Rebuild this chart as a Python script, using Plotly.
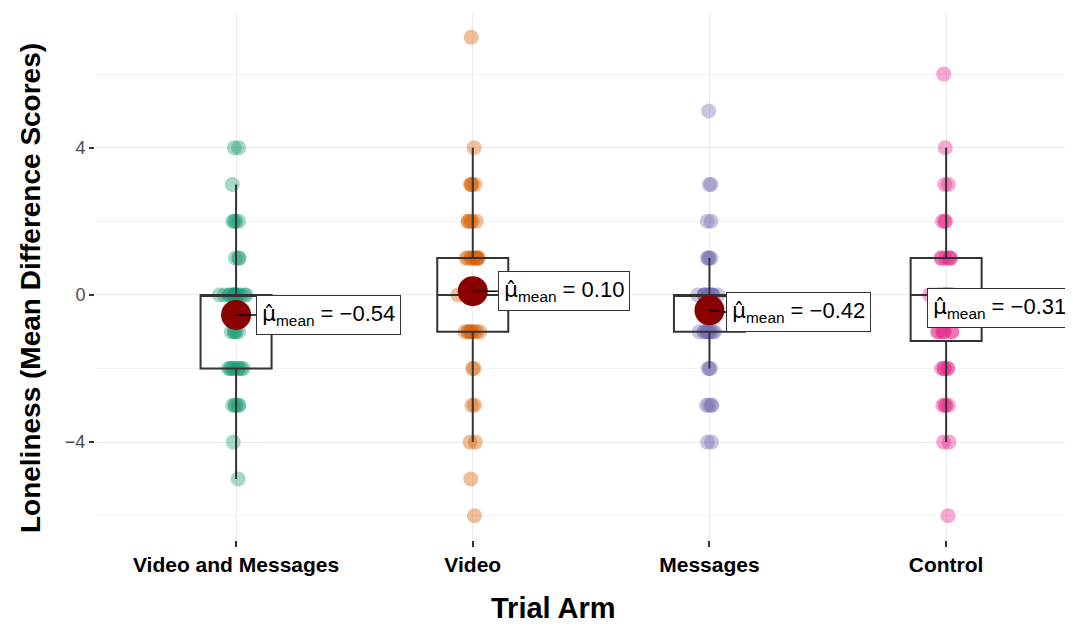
import numpy as np
import plotly.graph_objects as go

# ---- data ----
categories = ["Video and Messages", "Video", "Messages", "Control"]
colors = ["#1B9E77", "#D95F02", "#7570B3", "#E7298A"]

video_and_messages = [4, 4, 3, 2, 2, 2, 2, 1, 1, 1,
                      0, 0, 0, 0, 0, 0, 0, 0, 0, 0, 0, 0, 0, 0, 0,
                      -1, -1, -1, -1, -1,
                      -2, -2, -2, -2, -2, -2, -2, -2, -2,
                      -3, -3, -3, -3, -3, -4, -5]
video = [7, 4, 3, 3, 3, 3, 2, 2, 2, 2, 2,
         1, 1, 1, 1, 1, 1, 1, 1, 1,
         0, 0, 0, 0, 0, 0, 0, 0, 0, 0, 0, 0, 0, 0,
         -1, -1, -1, -1, -1, -1, -1, -1,
         -2, -2, -3, -3, -4, -4, -5, -6]
messages = [5, 3, 3, 2, 2, 1, 1, 1, 1,
            0, 0, 0, 0, 0, 0, 0, 0, 0, 0, 0, 0, 0, 0,
            -1, -1, -1, -1, -1, -1, -1, -1, -1, -1, -1,
            -2, -2, -2, -3, -3, -3, -3, -4, -4]
control = [6, 4, 3, 3, 2, 2, 2, 1, 1, 1, 1, 1, 1,
           0, 0, 0, 0, 0, 0, 0, 0, 0, 0, 0, 0, 0, 0, 0, 0,
           -1, -1, -1, -1, -1, -1, -1,
           -2, -2, -2, -2, -2, -3, -3, -3, -3, -4, -4, -6]
groups = [video_and_messages, video, messages, control]

FONT = "Liberation Sans, Arial, sans-serif"

fig = go.Figure()

# jittered points
for i, (vals, col) in enumerate(zip(groups, colors)):
    fig.add_trace(go.Box(
        x=[i] * len(vals), y=vals, boxpoints="all", jitter=0.5, pointpos=0,
        width=0.3, fillcolor="rgba(0,0,0,0)",
        line=dict(width=0, color="rgba(0,0,0,0)"),
        marker=dict(color=col, opacity=0.4, size=15),
        showlegend=False, hoveron="points"))

# box plots (Tukey, R type-7 quantiles)
means = []
for i, vals in enumerate(groups):
    v = np.array(vals, dtype=float)
    q1, med, q3 = np.percentile(v, [25, 50, 75])
    iqr = q3 - q1
    lf = v[v >= q1 - 1.5 * iqr].min()
    uf = v[v <= q3 + 1.5 * iqr].max()
    means.append(v.mean())
    fig.add_trace(go.Box(
        x=[i], q1=[q1], median=[med], q3=[q3], lowerfence=[lf], upperfence=[uf],
        orientation="v", width=0.3, whiskerwidth=0,
        fillcolor="rgba(0,0,0,0)", line=dict(color="#333333", width=2),
        boxpoints=False, showlegend=False))

# mean points
fig.add_trace(go.Scatter(
    x=list(range(len(categories))), y=means, mode="markers",
    marker=dict(color="#8B0000", size=30), showlegend=False))

label_ax = [20, 25, 17, -19]
label_ay = [0, 0, 2, 2]
for i, m in enumerate(means):
    txt = ("<span style='font-family:DejaVu Sans'>μ\u0302</span><sub>mean</sub> = "
           + f"{m:.2f}".replace("-", "\u2212"))
    common = dict(x=i, y=m, xref="x", yref="y", text=txt, xanchor="left",
                  yanchor="middle", bgcolor="white", bordercolor="#333333",
                  borderwidth=1, borderpad=5,
                  font=dict(family=FONT, size=22, color="black"))
    if label_ax[i] > 0:
        fig.add_annotation(showarrow=True, arrowhead=0, arrowwidth=1.5,
                           arrowcolor="black", ax=label_ax[i], ay=label_ay[i],
                           **common)
    else:
        fig.add_annotation(showarrow=False, xshift=label_ax[i],
                           yshift=-label_ay[i], **common)

# axis titles
fig.add_annotation(x=0.469, y=-0.129, xref="paper", yref="paper",
                   text="Trial Arm", showarrow=False, xanchor="center",
                   yanchor="middle",
                   font=dict(family=FONT, size=29, color="black", weight="bold"))
fig.add_annotation(x=-0.0665, y=0.478, xref="paper", yref="paper",
                   text="Loneliness (Mean Difference Scores)", showarrow=False,
                   textangle=-90, xanchor="center", yanchor="middle",
                   font=dict(family=FONT, size=28, color="black", weight="bold"))

fig.update_layout(
    width=1073, height=626,
    margin=dict(l=87, r=8, t=5, b=94),
    paper_bgcolor="white", plot_bgcolor="white",
    boxmode="overlay", font=dict(family=FONT),
    xaxis=dict(range=[-0.596, 3.536], tickvals=list(range(4)),
               ticktext=categories, showgrid=True, gridcolor="#EBEBEB",
               gridwidth=1.2, zeroline=False, showline=False,
               ticks="outside", ticklen=6, tickcolor="#333333", tickwidth=1.5,
               tickfont=dict(family=FONT, size=21, color="black", weight="bold")),
    yaxis=dict(range=[-6.66, 7.66], tickvals=[-4, 0, 4],
               ticktext=["\u22124", "0", "4"], showgrid=True,
               gridcolor="#EBEBEB", gridwidth=1.2, zeroline=False,
               showline=False, ticks="outside", ticklen=5,
               tickcolor="#333333", tickwidth=1.5,
               tickfont=dict(family=FONT, size=18, color="#4D4D4D"),
               minor=dict(tickvals=[-6, -2, 2, 6], showgrid=True,
                          gridcolor="#F3F3F3", gridwidth=1)),
)

fig.write_html("out.html")
